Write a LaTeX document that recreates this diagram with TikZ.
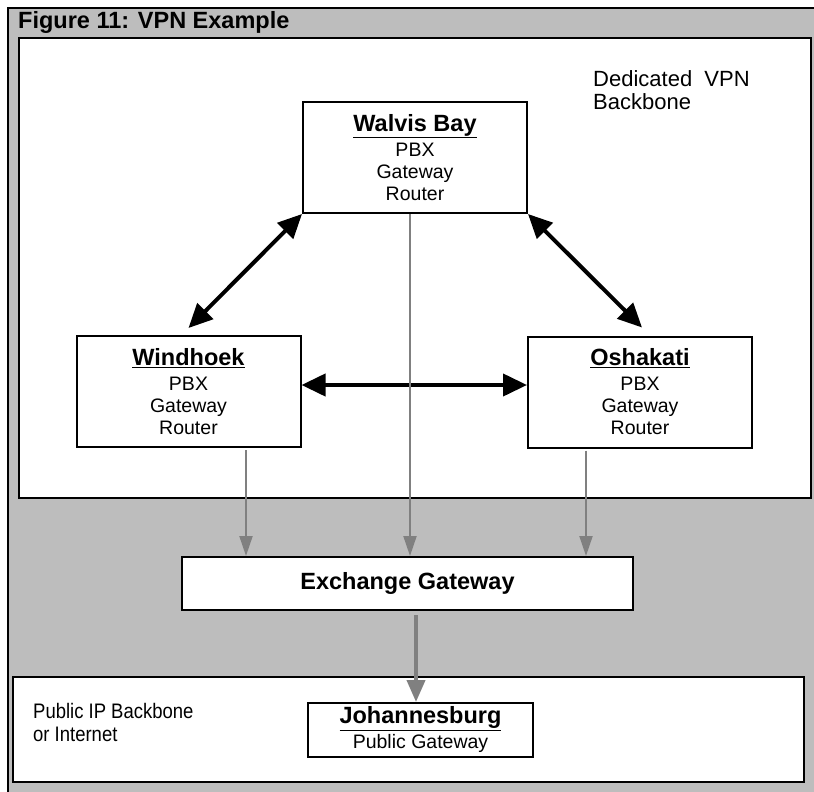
\documentclass[tikz,border=0pt]{standalone}
\usepackage{fontspec}
\setmainfont{Liberation Sans}
\newfontfamily\narrowsans[FakeStretch=0.88]{Liberation Sans}
\usetikzlibrary{arrows.meta}

\definecolor{panelgray}{RGB}{189,189,189}
\definecolor{linkgray}{RGB}{128,128,128}
\newcommand{\headfont}{\fontsize{23.5}{22}\selectfont\bfseries}
\newcommand{\bodyfont}{\fontsize{19.5}{22}\selectfont}

\begin{document}
\begin{tikzpicture}[x=1pt,y=-1pt,
    site/.style={draw,line width=2pt,fill=white,minimum width=224pt,minimum height=111pt,align=center,font=\bodyfont,inner sep=0pt},
    trunk/.style={line width=4pt,{Triangle[length=24pt,width=22pt]}-{Triangle[length=24pt,width=22pt]}},
    feed/.style={draw=linkgray,line width=2pt,-{Triangle[length=20pt,width=13pt]}},
    uplink/.style={draw=linkgray,line width=4pt,-{Triangle[length=22pt,width=18pt]}}
  ]
  \useasboundingbox (0,0) rectangle (814,792);
  \clip (0,0) rectangle (814,792);
  % panels
  \draw[line width=2pt,fill=panelgray] (8,8) rectangle (830,810);
  \draw[line width=2pt,fill=white] (19,38) rectangle (811,498);
  \draw[line width=2pt,fill=white] (13,677) rectangle (804,782);
  \node[anchor=base west,inner sep=0pt,font=\headfont] (caption) at (18,28.5) {Figure 11: VPN Example};
  \node[anchor=north west,inner sep=0pt,align=left,font=\fontsize{22}{23.3}\selectfont] (vpnlabel) at (593,70) {Dedicated\ \ VPN\\Backbone};
  \node[anchor=north west,inner sep=0pt,align=left,font=\narrowsans\fontsize{21}{23}\selectfont] (iplabel) at (33,703) {Public IP Backbone\\or Internet};

  % sites
  \node[site] (walvis) at (415,157.5) {{\headfont\underline{Walvis Bay}}\\[3pt]PBX\\Gateway\\Router};
  \node[site] (windhoek) at (188.5,391.5) {{\headfont\underline{Windhoek}}\\[3pt]PBX\\Gateway\\Router};
  \node[site] (oshakati) at (640,392) {{\headfont\underline{Oshakati}}\\[3pt]PBX\\Gateway\\Router};
  \node[site,minimum width=451pt,minimum height=53pt,font=\headfont] (exchange) at (407.5,583.5) {Exchange Gateway};
  \node[site,minimum width=225pt,minimum height=54pt] (joburg) at (420.5,730) {{\headfont\underline{Johannesburg}}\\[3pt]Public Gateway};

  % links
  \draw[trunk] (walvis.south west) -- ([yshift=7pt]windhoek.north);
  \draw[trunk] (walvis.south east) -- ([xshift=2pt,yshift=8pt]oshakati.north);
  \draw[trunk] ([yshift=6.5pt]windhoek.east) -- ([yshift=6.5pt]windhoek.east -| oshakati.west);
  \draw[feed] ([xshift=57.5pt,yshift=-2pt]windhoek.south) -- ([xshift=57.5pt]windhoek.south |- exchange.north);
  \draw[feed] ([xshift=-5pt]walvis.south) -- ([xshift=-5pt]walvis.south |- exchange.north);
  \draw[feed] ([xshift=-54pt,yshift=-2pt]oshakati.south) -- ([xshift=-54pt]oshakati.south |- exchange.north);
  \draw[uplink] ([xshift=8.5pt,yshift=-4pt]exchange.south) -- ([xshift=8.5pt]exchange.south |- joburg.north);
\end{tikzpicture}
\end{document}
